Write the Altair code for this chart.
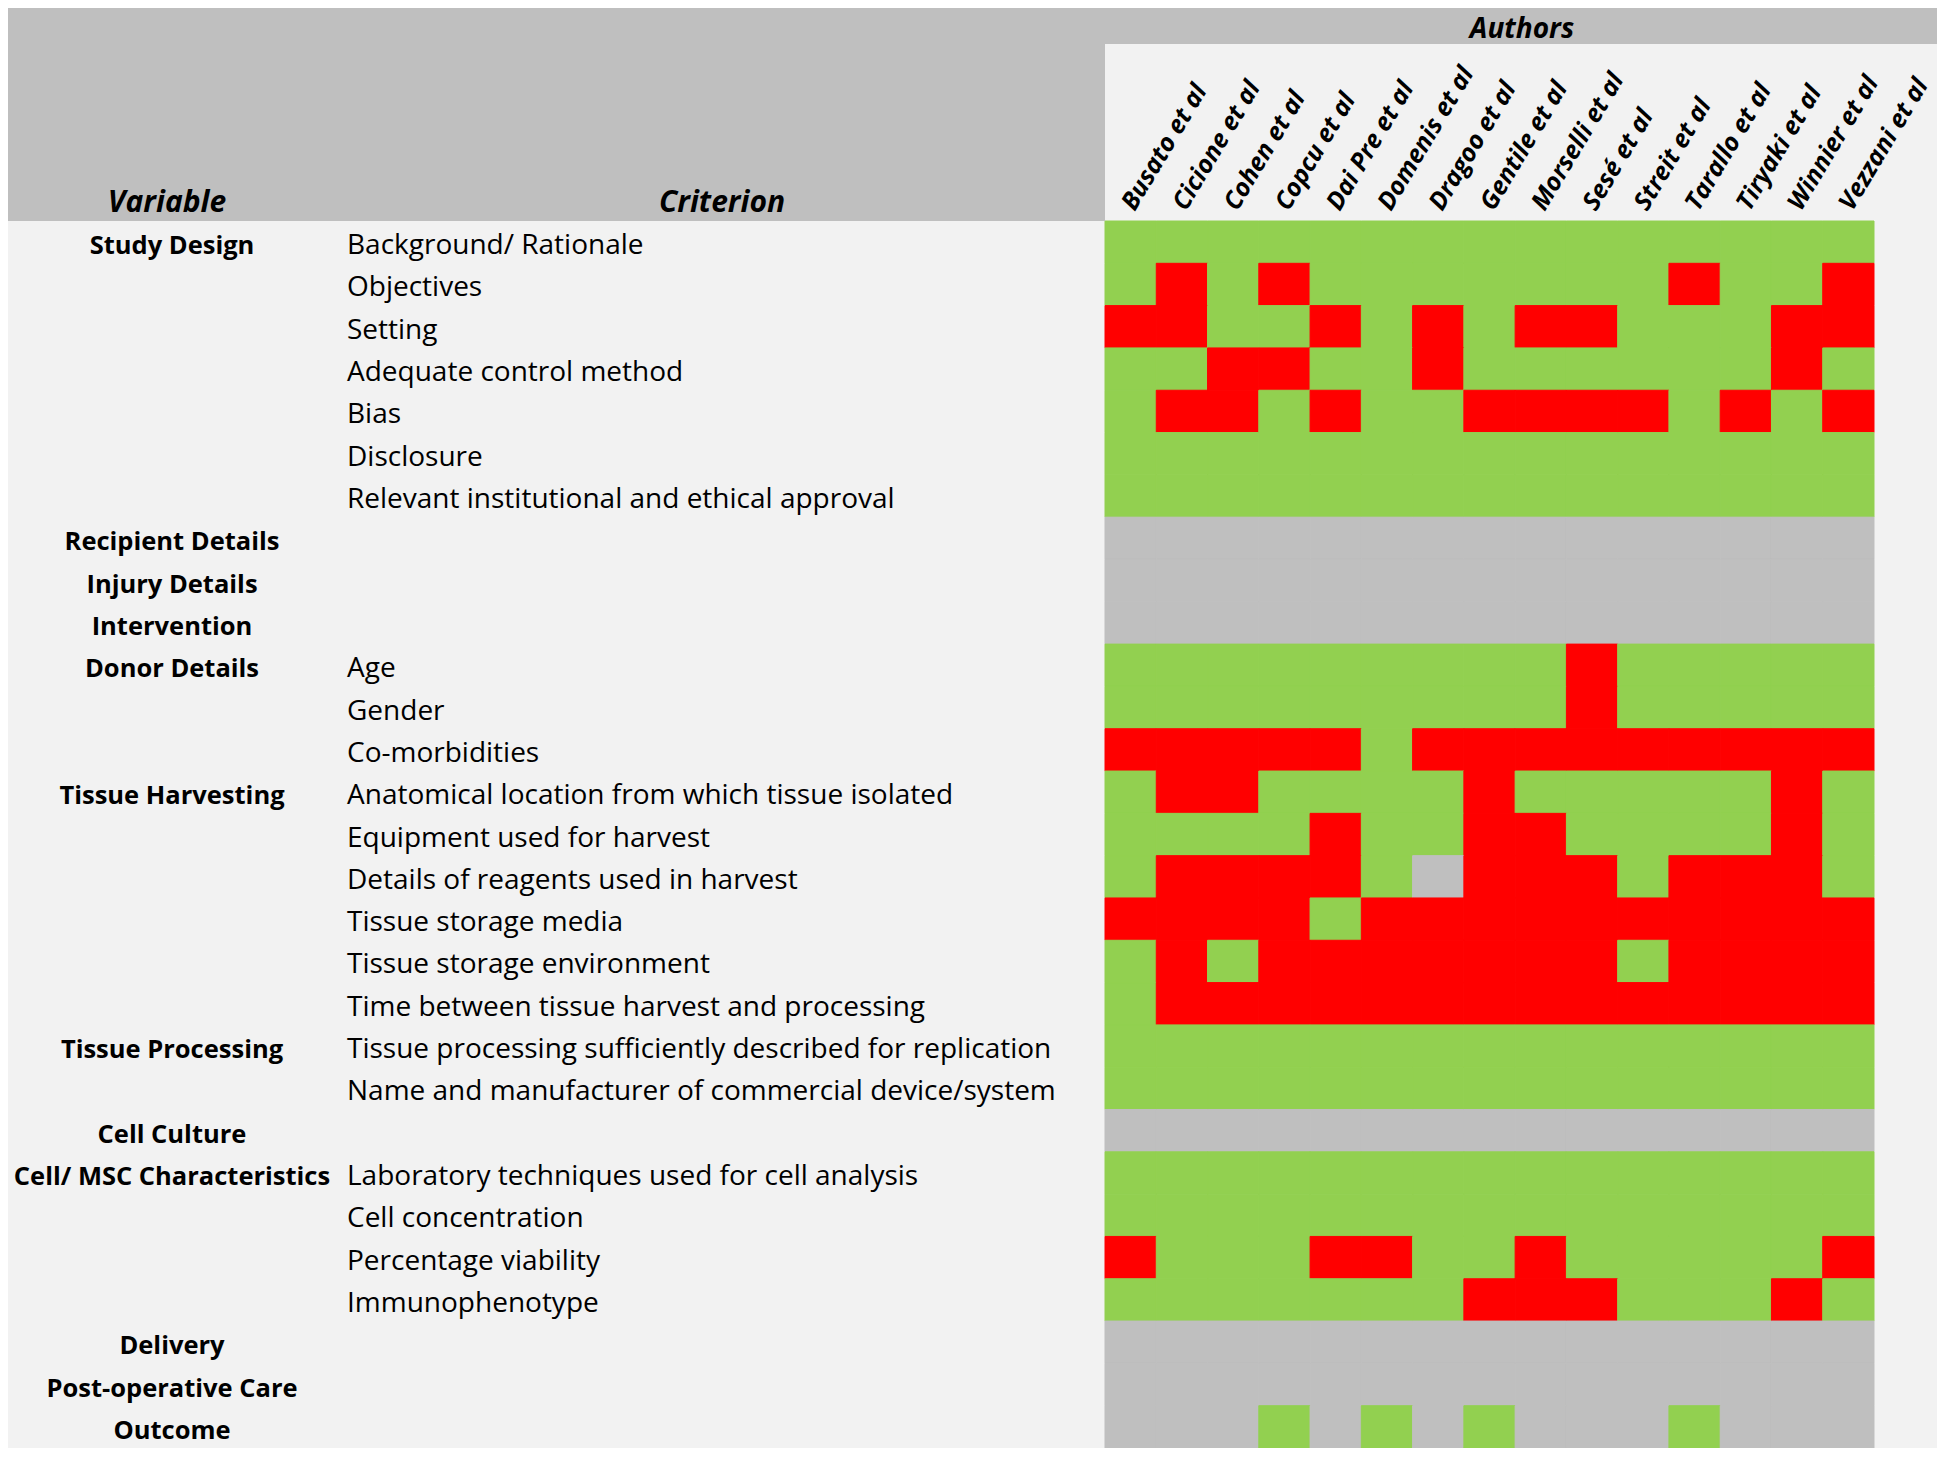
import altair as alt
import pandas as pd

# ---------------- data ----------------
authors = ["Busato et al", "Cicione et al", "Cohen et al", "Copcu et al", "Dai Pre et al",
           "Domenis et al", "Dragoo et al", "Gentile et al", "Morselli et al", "Sesé et al",
           "Streit et al", "Tarallo et al", "Tiryaki et al", "Winnier et al", "Vezzani et al"]

variables = ["Study Design", "", "", "", "", "", "",
             "Recipient Details", "Injury Details", "Intervention",
             "Donor Details", "", "",
             "Tissue Harvesting", "", "", "", "", "",
             "Tissue Processing", "",
             "Cell Culture",
             "Cell/ MSC Characteristics", "", "", "",
             "Delivery", "Post-operative Care", "Outcome"]

criteria = ["Background/ Rationale", "Objectives", "Setting", "Adequate control method", "Bias",
            "Disclosure", "Relevant institutional and ethical approval",
            "", "", "",
            "Age", "Gender", "Co-morbidities",
            "Anatomical location from which tissue isolated", "Equipment used for harvest",
            "Details of reagents used in harvest", "Tissue storage media", "Tissue storage environment",
            "Time between tissue harvest and processing",
            "Tissue processing sufficiently described for replication",
            "Name and manufacturer of commercial device/system",
            "",
            "Laboratory techniques used for cell analysis", "Cell concentration",
            "Percentage viability", "Immunophenotype",
            "", "", ""]

# G = reported, R = not reported, N = not applicable (one character per author)
ratings = ["GGGGGGGGGGGGGGG",
           "GRGRGGGGGGGRGGR",
           "RRGGRGRGRRGGGRR",
           "GGRRGGRGGGGGGRG",
           "GRRGRGGRRRRGRGR",
           "GGGGGGGGGGGGGGG",
           "GGGGGGGGGGGGGGG",
           "NNNNNNNNNNNNNNN",
           "NNNNNNNNNNNNNNN",
           "NNNNNNNNNNNNNNN",
           "GGGGGGGGGRGGGGG",
           "GGGGGGGGGRGGGGG",
           "RRRRRGRRRRRRRRR",
           "GRRGGGGRGGGGGRG",
           "GGGGRGGRRGGGGRG",
           "GRRRRGNRRRGRRRG",
           "RRRRGRRRRRRRRRR",
           "GRGRRRRRRRGRRRR",
           "GRRRRRRRRRRRRRR",
           "GGGGGGGGGGGGGGG",
           "GGGGGGGGGGGGGGG",
           "NNNNNNNNNNNNNNN",
           "GGGGGGGGGGGGGGG",
           "GGGGGGGGGGGGGGG",
           "RGGGRRGGRGGGGGR",
           "GGGGGGGRRRGGGRG",
           "NNNNNNNNNNNNNNN",
           "NNNNNNNNNNNNNNN",
           "NNNGNGNGNNNGNNN"]

status_names = {"G": "Reported", "R": "Not reported", "N": "Not applicable"}
status_domain = ["Reported", "Not reported", "Not applicable"]
status_colors = ["#92d050", "#ff0000", "#bfbfbf"]

cells = pd.DataFrame([
    {"row": i, "author": authors[j], "status": status_names[code]}
    for i, row in enumerate(ratings) for j, code in enumerate(row)
])
var_df = pd.DataFrame([{"row": i, "label": v} for i, v in enumerate(variables) if v])
crit_df = pd.DataFrame([{"row": i, "label": c} for i, c in enumerate(criteria) if c])
author_df = pd.DataFrame({"author": authors})
one = pd.DataFrame({"k": [0]})

# ---------------- layout ----------------
W, H = 1929, 1440
GX0, GX1 = 1097, 1866
GY0, GY1 = 213, 1440
FONT = "Open Sans"
HEAD_GRAY = "#bfbfbf"

xscale = alt.Scale(domain=authors, range=[GX0, GX1], paddingInner=0, paddingOuter=0)
yscale = alt.Scale(domain=list(range(len(ratings))), range=[GY0, GY1], paddingInner=0, paddingOuter=0)

head_left = alt.Chart(one).mark_rect(color=HEAD_GRAY).encode(
    x=alt.value(0), x2=alt.value(GX0), y=alt.value(0), y2=alt.value(GY0))
head_strip = alt.Chart(one).mark_rect(color=HEAD_GRAY).encode(
    x=alt.value(0), x2=alt.value(W), y=alt.value(0), y2=alt.value(36))

head_style = dict(font=FONT, fontSize=30, fontWeight="bold", fontStyle="italic",
                  align="center", baseline="alphabetic", color="black")
t_variable = alt.Chart(one).mark_text(text="Variable", **head_style).encode(
    x=alt.value(159), y=alt.value(204))
t_criterion = alt.Chart(one).mark_text(text="Criterion", **head_style).encode(
    x=alt.value(714), y=alt.value(204))
t_authors = alt.Chart(one).mark_text(
    text="Authors", font=FONT, fontSize=28, fontWeight="bold", fontStyle="italic",
    align="center", baseline="alphabetic", color="black"
).encode(x=alt.value(1514), y=alt.value(30))

author_labels = alt.Chart(author_df).mark_text(
    font=FONT, fontSize=25, fontWeight="bold", fontStyle="italic", color="black",
    align="left", baseline="alphabetic", angle=301, xOffset=4
).encode(
    x=alt.X("author:N", scale=xscale, axis=None),
    y=alt.value(204),
    text="author:N",
)

grid = alt.Chart(cells).mark_rect(strokeWidth=1).encode(
    x=alt.X("author:N", scale=xscale, axis=None),
    y=alt.Y("row:O", scale=yscale, axis=None),
    color=alt.Color("status:N", scale=alt.Scale(domain=status_domain, range=status_colors), legend=None),
    stroke=alt.Stroke("status:N", scale=alt.Scale(domain=status_domain, range=status_colors), legend=None),
)

var_text = alt.Chart(var_df).mark_text(
    font=FONT, fontSize=25.5, fontWeight="bold", color="black",
    align="center", baseline="alphabetic", dy=12
).encode(
    x=alt.value(164),
    y=alt.Y("row:O", scale=yscale, axis=None),
    text="label:N",
)

crit_text = alt.Chart(crit_df).mark_text(
    font=FONT, fontSize=28, color="black",
    align="left", baseline="alphabetic", dy=12
).encode(
    x=alt.value(339),
    y=alt.Y("row:O", scale=yscale, axis=None),
    text="label:N",
)

chart = alt.layer(
    head_left, head_strip, t_variable, t_criterion, t_authors,
    grid, author_labels, var_text, crit_text
).properties(
    width=W, height=H, padding=0,
    autosize=alt.AutoSizeParams(type="none"),
).configure(
    background="#f2f2f2"
).configure_view(
    strokeWidth=0
)

chart.save("out.html", embed_options={"renderer": "svg", "actions": False})
